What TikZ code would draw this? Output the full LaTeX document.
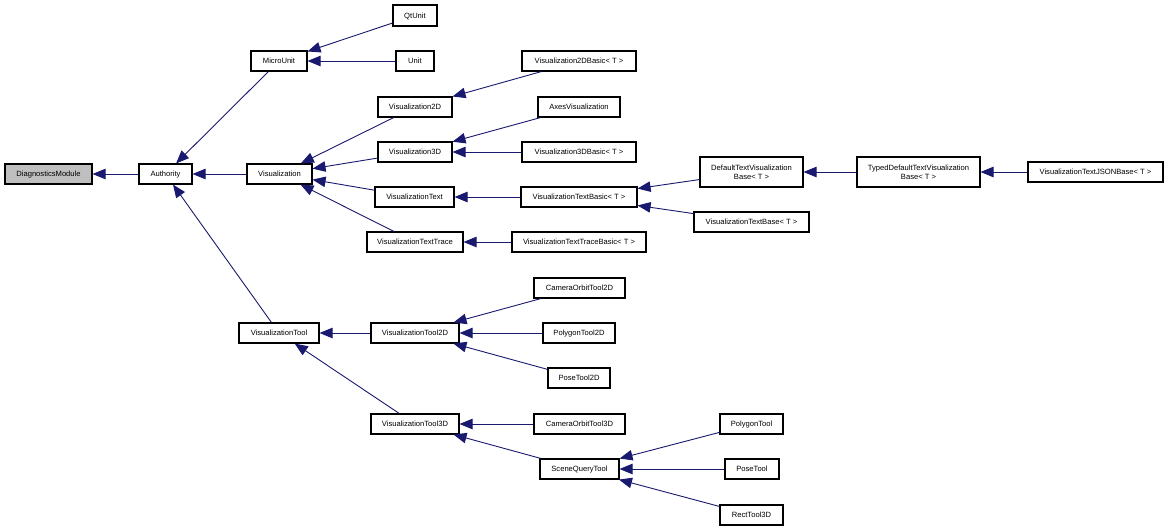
\documentclass[tikz,border=0pt]{standalone}
\usepackage{fontspec}
\setmainfont{Liberation Sans}
\usetikzlibrary{arrows.meta}
\definecolor{edgeblue}{HTML}{191970}
\definecolor{rootgray}{HTML}{BFBFBF}
\tikzset{
  cls/.style={draw=black, line width=1.1pt, fill=white, inner sep=0pt,
    minimum height=20pt, font=\fontsize{7.6}{9}\selectfont, align=center,
    text height=5.4pt, text depth=0pt},
  cls2/.style={draw=black, line width=1.1pt, fill=white, inner sep=0pt,
    minimum height=30pt, font=\fontsize{7.6}{9}\selectfont, align=center},
  edge/.style={draw=edgeblue, line width=0.9pt,
    -{Triangle[length=13pt,width=10.5pt]}},
}
\begin{document}
\begin{tikzpicture}[x=1pt,y=-1pt]
\useasboundingbox[fill=white] (0,0) rectangle (1168,531);
\node[cls, fill=rootgray, minimum width=87pt] (dm) at (48.5,174) {DiagnosticsModule};
\node[cls, minimum width=53pt] (auth) at (165.5,174) {Authority};
\node[cls, minimum width=65pt] (vis) at (279.5,174) {Visualization};
\node[cls, minimum width=56pt] (mu) at (279,61) {MicroUnit};
\node[cls, minimum width=44pt, minimum height=21pt] (qt) at (415,15.5) {QtUnit};
\node[cls, minimum width=38pt] (unit) at (415,61) {Unit};
\node[cls, minimum width=74pt] (v2d) at (415,107) {Visualization2D};
\node[cls, minimum width=74pt] (v3d) at (415,152) {Visualization3D};
\node[cls, minimum width=79pt] (vtext) at (414.5,197) {VisualizationText};
\node[cls, minimum width=96pt] (vtt) at (415,242) {VisualizationTextTrace};
\node[cls, minimum width=114pt] (v2db) at (579,61) {Visualization2DBasic< T >};
\node[cls, minimum width=82pt] (axes) at (579,107) {AxesVisualization};
\node[cls, minimum width=114pt] (v3db) at (579,152) {Visualization3DBasic< T >};
\node[cls, minimum width=116pt] (vtb) at (579,197) {VisualizationTextBasic< T >};
\node[cls, minimum width=134pt] (vttb) at (579,242) {VisualizationTextTraceBasic< T >};
\node[cls2, minimum width=103pt] (dtvb) at (751.5,172) {DefaultTextVisualization\\Base< T >};
\node[cls2, minimum width=123pt] (tdtvb) at (918.5,172) {TypedDefaultTextVisualization\\Base< T >};
\node[cls, minimum width=135pt] (json) at (1095.5,172) {VisualizationTextJSONBase< T >};
\node[cls, minimum width=115pt] (vtbase) at (751.5,222) {VisualizationTextBase< T >};
\node[cls, minimum width=80pt] (vtool) at (279,333) {VisualizationTool};
\node[cls, minimum width=88pt] (vt2d) at (415,333) {VisualizationTool2D};
\node[cls, minimum width=91pt] (cot2d) at (579.5,288) {CameraOrbitTool2D};
\node[cls, minimum width=72pt] (poly2d) at (579,333) {PolygonTool2D};
\node[cls, minimum width=62pt] (pose2d) at (579,378) {PoseTool2D};
\node[cls, minimum width=88pt] (vt3d) at (415,424) {VisualizationTool3D};
\node[cls, minimum width=91pt] (cot3d) at (579.5,424) {CameraOrbitTool3D};
\node[cls, minimum width=79pt] (sqt) at (579.5,469) {SceneQueryTool};
\node[cls, minimum width=63pt] (polyt) at (751.5,424) {PolygonTool};
\node[cls, minimum width=54pt] (poset) at (752,469) {PoseTool};
\node[cls, minimum width=63pt] (rect) at (751.5,515) {RectTool3D};

\draw[edge] (auth) -- (dm);
\draw[edge] (mu) -- (auth);
\draw[edge] (vis) -- (auth);
\draw[edge] (vtool) -- (auth);
\draw[edge] (qt) -- (mu);
\draw[edge] (unit) -- (mu);
\draw[edge] (v2d) -- (vis);
\draw[edge] (v3d) -- (vis);
\draw[edge] (vtext) -- (vis);
\draw[edge] (vtt) -- (vis);
\draw[edge] (v2db) -- (v2d);
\draw[edge] (axes) -- (v3d);
\draw[edge] (v3db) -- (v3d);
\draw[edge] (vtb) -- (vtext);
\draw[edge] (vttb) -- (vtt);
\draw[edge] (dtvb) -- (vtb);
\draw[edge] (vtbase) -- (vtb);
\draw[edge] (tdtvb) -- (dtvb);
\draw[edge] (json) -- (tdtvb);
\draw[edge] (vt2d) -- (vtool);
\draw[edge] (vt3d) -- (vtool);
\draw[edge] (cot2d) -- (vt2d);
\draw[edge] (poly2d) -- (vt2d);
\draw[edge] (pose2d) -- (vt2d);
\draw[edge] (cot3d) -- (vt3d);
\draw[edge] (sqt) -- (vt3d);
\draw[edge] (polyt) -- (sqt);
\draw[edge] (poset) -- (sqt);
\draw[edge] (rect) -- (sqt);
\end{tikzpicture}
\end{document}
